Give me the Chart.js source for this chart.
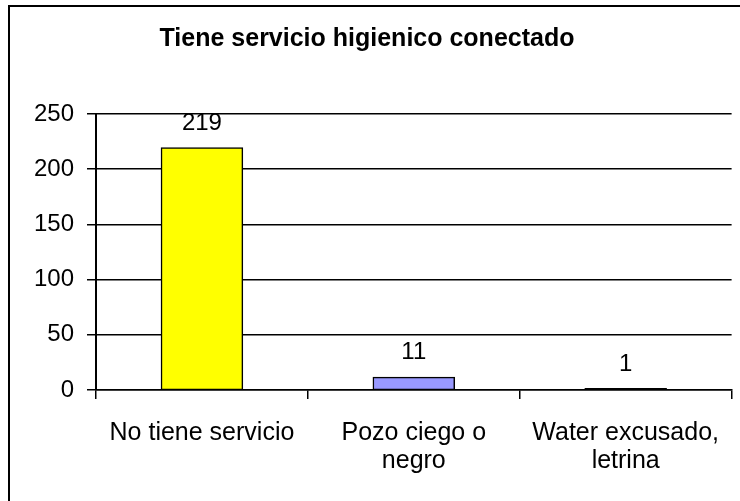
<!DOCTYPE html>
<html>
<head>
<meta charset="utf-8">
<script src="https://cdn.jsdelivr.net/npm/chart.js@4/dist/chart.umd.min.js"></script>
<style>
  html, body { margin: 0; padding: 0; background: #ffffff; }
  #wrap { width: 740px; height: 501px; }
</style>
</head>
<body>
<div id="wrap"><canvas id="c" width="740" height="501"></canvas></div>
<script>
const titleText = "Tiene servicio higienico conectado";
const categories = [["No tiene servicio"], ["Pozo ciego o", "negro"], ["Water excusado,", "letrina"]];
const values = [219, 11, 1];
const barColors = ["#FFFF00", "#9999FF", "#000000"];
const yTicks = [0, 50, 100, 150, 200, 250];

const FONT = "'Liberation Sans', Arial, Helvetica, sans-serif";

const frameAndLabels = {
  id: 'frameAndLabels',
  afterDraw(chart) {
    const ctx = chart.ctx;
    ctx.save();
    ctx.strokeStyle = '#000';
    ctx.lineWidth = 2;
    ctx.beginPath();
    ctx.moveTo(9, 501);
    ctx.lineTo(9, 6);
    ctx.lineTo(740, 6);
    ctx.stroke();
    const meta = chart.getDatasetMeta(0);
    ctx.fillStyle = '#000';
    ctx.font = "24px " + FONT;
    ctx.textAlign = 'center';
    ctx.textBaseline = 'middle';
    meta.data.forEach((bar, i) => {
      ctx.fillText(String(values[i]), bar.x, bar.y - 25);
    });
    ctx.restore();
  }
};

new Chart(document.getElementById('c'), {
  type: 'bar',
  data: {
    labels: categories,
    datasets: [{
      data: values,
      backgroundColor: barColors,
      borderColor: '#000',
      borderWidth: 1.5,
      borderSkipped: false,
      inflateAmount: 1,
      barPercentage: 0.38,
      categoryPercentage: 1.0
    }]
  },
  options: {
    responsive: false,
    animation: false,
    layout: { padding: { left: 0, right: 6, top: 0, bottom: 0 } },
    plugins: {
      legend: { display: false },
      tooltip: { enabled: false },
      title: {
        display: true,
        text: titleText,
        color: '#000',
        font: { family: FONT, size: 25, weight: 'bold', lineHeight: 1.2 },
        padding: { top: 24, bottom: 60 }
      }
    },
    scales: {
      x: {
        offset: true,
        grid: {
          offset: true,
          drawOnChartArea: false,
          drawTicks: true,
          tickLength: 9,
          color: '#000',
          lineWidth: 1.5
        },
        border: { display: true, color: '#000', width: 1.5 },
        ticks: {
          color: '#000',
          padding: 20,
          maxRotation: 0,
          autoSkip: false,
          font: { family: FONT, size: 25, lineHeight: 1.12 }
        },
        afterFit(scale) { scale.height = 111; }
      },
      y: {
        min: 0,
        max: 250,
        afterBuildTicks(scale) { scale.ticks = yTicks.map(v => ({ value: v })); },
        grid: {
          color: '#000',
          lineWidth: 1.5,
          drawTicks: true,
          tickLength: 9
        },
        border: { display: true, color: '#000', width: 2 },
        ticks: {
          color: '#000',
          padding: 13,
          font: { family: FONT, size: 24 }
        },
        afterFit(scale) { scale.width = 96; }
      }
    }
  },
  plugins: [frameAndLabels]
});
</script>
</body>
</html>
